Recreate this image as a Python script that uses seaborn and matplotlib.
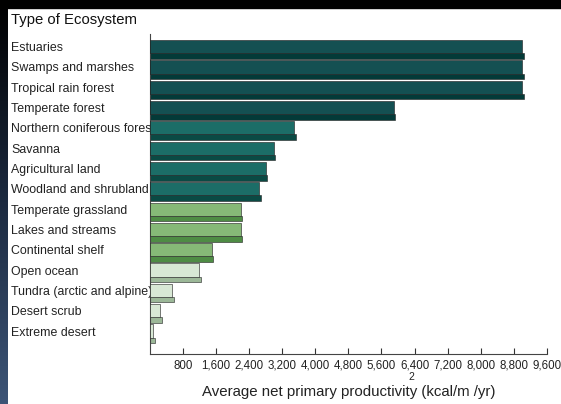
from matplotlib import pyplot as plt
import matplotlib.colors as mcolors
import pandas as pd
import numpy as np
import seaborn as sns

ecosystems = [
    "Estuaries", "Swamps and marshes", "Tropical rain forest", "Temperate forest",
    "Northern coniferous forest", "Savanna", "Agricultural land", "Woodland and shrubland",
    "Temperate grassland", "Lakes and streams", "Continental shelf", "Open ocean",
    "Tundra (arctic and alpine)", "Desert scrub", "Extreme desert",
]
productivity = [9000, 9000, 9000, 5900, 3500, 3000, 2800, 2650,
                2200, 2200, 1500, 1200, 550, 250, 80]
groups = [0, 0, 0, 0, 1, 1, 1, 1, 2, 2, 2, 3, 3, 3, 3]
xticks = [800, 1600, 2400, 3200, 4000, 4800, 5600, 6400, 7200, 8000, 8800, 9600]

face_cols = ["#0a5a5c", "#0f7a72", "#80c46c", "#d6ebd2"]
side_cols = ["#033a38", "#0a4a44", "#4e8c44", "#9cb898"]

data = pd.DataFrame({"Ecosystem": ecosystems, "Value": productivity, "Group": groups})

fig = plt.figure(figsize=(5.61, 4.04), dpi=100)

# dark slide border (top band + left gradient strip)
bg = fig.add_axes([0, 0, 1, 1], zorder=-10)
bg.set_axis_off()
bg.set_xlim(0, 561)
bg.set_ylim(404, 0)
bg.add_patch(plt.Rectangle((0, 0), 561, 8, color="black"))
grad = np.linspace(0, 1, 256).reshape(-1, 1)
cmap = mcolors.LinearSegmentedColormap.from_list("b", ["#000000", "#1c2a40", "#3d5577"])
bg.imshow(grad, cmap=cmap, extent=(0, 8, 404, 0), aspect="auto")

ax = fig.add_axes([149.6 / 561, 50 / 404, (547 - 149.6) / 561, 320 / 404])

# shaded underside strip for the 3D look
ypos = np.arange(len(ecosystems))
ax.barh(ypos + 0.46, data["Value"] + 40, height=0.27,
        color=[side_cols[g] for g in groups], edgecolor="#222222", linewidth=0.4, zorder=2)

sns.barplot(
    data=data,
    x="Value",
    y="Ecosystem",
    hue="Ecosystem",
    palette=[face_cols[g] for g in groups],
    legend=False,
    width=0.65,
    edgecolor="#1a1a1a",
    linewidth=0.4,
    ax=ax,
    zorder=3,
)

ax.set_xlim(0, 9600)
ax.set_ylim(15.13, -0.62)
ax.set_xticks(xticks)
ax.set_xticklabels([f"{t:,}" for t in xticks], fontsize=8.3, family="Liberation Sans")
ax.tick_params(axis="x", direction="in", length=4, width=0.8, pad=4, color="#333333")
ax.tick_params(axis="y", length=0, pad=(149.6 - 11) * 0.72)
for lab in ax.get_yticklabels():
    lab.set_horizontalalignment("left")
    lab.set_fontsize(8.9)
    lab.set_family("Liberation Sans")
    lab.set_color("#222222")
for lab in ax.get_xticklabels():
    lab.set_color("#222222")

ax.set_ylabel("")
ax.set_xlabel("Average net primary productivity (kcal/m /yr)", fontsize=10.8,
              family="Liberation Sans", color="#222222", labelpad=10)
ax.spines["top"].set_visible(False)
ax.spines["right"].set_visible(False)
ax.spines["left"].set_color("#444444")
ax.spines["bottom"].set_color("#444444")
ax.spines["left"].set_linewidth(0.8)
ax.spines["bottom"].set_linewidth(0.8)

fig.text(11 / 561, 1 - 20 / 404, "Type of Ecosystem", fontsize=10.7, family="Liberation Sans",
         color="#111111", va="center", ha="left")
fig.text(411 / 561, 1 - 376.5 / 404, "2", fontsize=7.5, family="Liberation Sans",
         color="#222222", va="center", ha="center")

plt.savefig("out.png", dpi=100)
